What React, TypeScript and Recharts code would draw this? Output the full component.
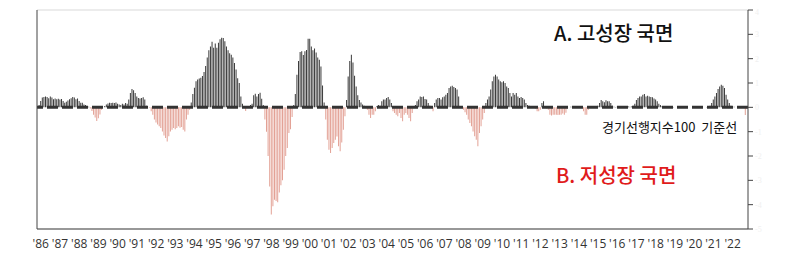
import { BarChart, Bar, Cell, XAxis, YAxis, CartesianGrid, ReferenceLine } from "recharts";

// monthly leading index minus 100 (Jan..Dec)
const y1986 = [0.05, 0.1, 0.26, 0.4, 0.42, 0.45, 0.42, 0.37, 0.45, 0.4, 0.33, 0.36];
const y1987 = [0.33, 0.35, 0.32, 0.34, 0.26, 0.19, 0.23, 0.28, 0.33, 0.37, 0.42, 0.4];
const y1988 = [0.33, 0.36, 0.26, 0.19, 0.19, 0.12, 0.1, 0.05, 0.02, -0.05, -0.15, -0.3];
const y1989 = [-0.42, -0.56, -0.45, -0.29, -0.1, 0.0, 0.05, 0.12, 0.16, 0.19, 0.18, 0.19];
const y1990 = [0.18, 0.2, 0.15, 0.12, 0.1, 0.15, 0.12, 0.18, 0.15, 0.32, 0.59, 0.75];
const y1991 = [0.7, 0.59, 0.45, 0.38, 0.36, 0.38, 0.41, 0.32, 0.07, 0.0, -0.02, -0.16];
const y1992 = [-0.3, -0.5, -0.62, -0.71, -0.78, -0.85, -0.99, -1.16, -1.26, -1.4, -1.19, -0.99];
const y1993 = [-0.92, -0.85, -0.9, -0.85, -0.78, -0.84, -0.81, -0.92, -0.99, -0.5, -0.3, -0.1];
const y1994 = [0.2, 0.55, 0.8, 1.07, 1.14, 1.18, 1.22, 1.29, 1.45, 1.7, 2.05, 2.35];
const y1995 = [2.5, 2.7, 2.45, 2.62, 2.45, 2.65, 2.8, 2.86, 2.85, 2.72, 2.5, 2.35];
const y1996 = [2.22, 2.16, 2.05, 1.82, 1.55, 1.2, 1.0, 0.45, 0.15, 0.05, -0.15, 0.05];
const y1997 = [0.05, 0.1, 0.15, 0.5, 0.56, 0.45, 0.55, 0.6, 0.35, 0.1, -0.5, -1.0];
const y1998 = [-2.0, -3.25, -4.4, -4.07, -3.8, -3.85, -3.9, -3.5, -3.2, -3.0, -2.56, -2.0];
const y1999 = [-1.67, -1.05, -0.9, -0.4, 0.1, 0.55, 1.34, 1.9, 2.27, 2.3, 2.15, 2.3];
const y2000 = [2.36, 2.82, 2.82, 2.5, 2.35, 2.42, 2.25, 2.05, 1.96, 1.68, 0.9, 0.2];
const y2001 = [-0.5, -1.33, -1.74, -1.88, -1.67, -1.47, -1.33, -1.2, -1.6, -1.8, -1.45, -0.92];
const y2002 = [-0.37, 0.3, 1.27, 1.9, 2.16, 1.84, 1.3, 0.86, 0.5, 0.3, 0.2, 0.12];
const y2003 = [0.07, 0.0, -0.1, -0.3, -0.44, -0.3, -0.3, -0.16, 0.05, 0.1, 0.07, 0.25];
const y2004 = [0.32, 0.32, 0.38, 0.42, 0.32, 0.18, -0.16, -0.23, -0.3, -0.37, -0.23, -0.44];
const y2005 = [-0.57, -0.3, -0.23, -0.3, -0.44, -0.57, -0.23, 0.0, 0.1, 0.25, 0.32, 0.45];
const y2006 = [0.42, 0.45, 0.34, 0.32, 0.18, 0.07, 0.0, -0.16, 0.18, 0.32, 0.38, 0.38];
const y2007 = [0.32, 0.41, 0.45, 0.52, 0.59, 0.79, 0.86, 0.89, 0.84, 0.79, 0.73, 0.45];
const y2008 = [0.05, 0.0, -0.1, -0.2, -0.3, -0.5, -0.64, -0.78, -0.99, -1.19, -1.33, -1.6];
const y2009 = [-1.05, -0.78, -0.5, -0.23, 0.18, 0.32, 0.45, 0.73, 1.07, 1.27, 1.34, 1.27];
const y2010 = [1.14, 1.07, 1.03, 1.07, 1.0, 0.86, 0.79, 0.59, 0.45, 0.59, 0.52, 0.59];
const y2011 = [0.45, 0.38, 0.42, 0.38, 0.32, 0.18, 0.1, 0.07, 0.05, 0.02, 0.0, -0.05];
const y2012 = [-0.16, -0.16, -0.1, 0.18, 0.25, 0.0, -0.05, -0.1, -0.3, -0.34, -0.3, -0.3];
const y2013 = [-0.3, -0.32, -0.3, -0.3, -0.25, -0.3, -0.22, -0.05, 0.0, 0.02, 0.02, 0.0];
const y2014 = [0.0, 0.02, 0.0, -0.02, 0.0, -0.16, -0.3, -0.3, -0.1, 0.0, 0.02, 0.03];
const y2015 = [0.02, 0.05, 0.07, 0.18, 0.3, 0.25, 0.21, 0.29, 0.25, 0.25, 0.18, 0.07];
const y2016 = [0.02, 0.01, 0.02, 0.01, 0.0, 0.01, 0.02, 0.01, 0.02, 0.03, 0.02, 0.03];
const y2017 = [0.07, 0.15, 0.3, 0.38, 0.45, 0.45, 0.52, 0.55, 0.45, 0.48, 0.45, 0.42];
const y2018 = [0.41, 0.36, 0.32, 0.25, 0.15, 0.1, 0.04, 0.02, 0.01, 0.0, 0.0, 0.0];
const y2019 = [0.0, 0.01, 0.0, 0.0, 0.01, 0.0, 0.0, 0.0, 0.01, 0.0, 0.0, 0.0];
const y2020 = [0.0, 0.0, 0.01, 0.0, 0.0, 0.0, 0.01, 0.0, 0.0, 0.0, 0.01, 0.02];
const y2021 = [0.07, 0.18, 0.32, 0.45, 0.59, 0.75, 0.86, 0.93, 0.89, 0.79, 0.52, 0.32];
const y2022 = [0.18, 0.07, 0.04, 0.02, 0.0, 0.0, 0.0, 0.0, 0.0, 0.0, -0.32, -0.05];

const yearRows: [number, number[]][] = [
  [1986, y1986], [1987, y1987], [1988, y1988], [1989, y1989], [1990, y1990],
  [1991, y1991], [1992, y1992], [1993, y1993], [1994, y1994], [1995, y1995],
  [1996, y1996], [1997, y1997], [1998, y1998], [1999, y1999], [2000, y2000],
  [2001, y2001], [2002, y2002], [2003, y2003], [2004, y2004], [2005, y2005],
  [2006, y2006], [2007, y2007], [2008, y2008], [2009, y2009], [2010, y2010],
  [2011, y2011], [2012, y2012], [2013, y2013], [2014, y2014], [2015, y2015],
  [2016, y2016], [2017, y2017], [2018, y2018], [2019, y2019], [2020, y2020],
  [2021, y2021], [2022, y2022],
];

const rightTicks = [-5, -4, -3, -2, -1, 0, 1, 2, 3, 4];
const gridTicks = [0, 1, 2, 3, 4, 5, 6];

const data = yearRows.flatMap(([yr, vals]) =>
  vals.map((v, i) => ({ m: `${yr}-${i + 1}`, v }))
);

const DARK = "#3a3a3a";
const PINK = "#e3a195";
const AXIS = "#444";
const KR = "'Noto Sans CJK KR', 'Noto Sans', sans-serif";

export default function App() {
  return (
    <div style={{ position: "relative", width: 778, height: 249 }}>
      <BarChart
        width={778}
        height={249}
        data={data}
        margin={{ top: 2, right: 8, bottom: 8, left: 28 }}
        barCategoryGap={0}
      >
        <CartesianGrid vertical={false} yAxisId="l" stroke="#d9d9d9" />
        <XAxis
          dataKey="m"
          interval={11}
          tickLine={false}
          axisLine={{ stroke: AXIS }}
          tickMargin={4}
          height={20}
          tick={{ fill: "#333", fontSize: 12, fontFamily: "'Open Sans', sans-serif", dx: 3 }}
          tickFormatter={(m: string) => "'" + m.slice(2, 4)}
        />
        <YAxis
          yAxisId="l"
          orientation="left"
          width={1}
          domain={[0, 6]}
          ticks={gridTicks}
          tick={false}
          tickLine={false}
          axisLine={{ stroke: AXIS }}
        />
        <YAxis
          yAxisId="r"
          orientation="right"
          width={30}
          domain={[-5, 4]}
          ticks={rightTicks}
          tickSize={5}
          tickLine={{ stroke: AXIS }}
          axisLine={{ stroke: AXIS }}
          tick={{ fill: "#f0f0f0", fontSize: 8 }}
        />
        <Bar dataKey="v" yAxisId="r" barSize={1} isAnimationActive={false}>
          {data.map((d, i) => (
            <Cell key={i} fill={d.v >= 0 ? DARK : PINK} />
          ))}
        </Bar>
        <ReferenceLine y={0} yAxisId="r" stroke="#333" strokeWidth={3} strokeDasharray="11 4" />
      </BarChart>
      <div style={{ position: "absolute", left: 546, top: 25, transform: "translateY(-50%)", fontFamily: KR, fontSize: 20, fontWeight: 500, color: "#111", lineHeight: 1, whiteSpace: "pre" }}>
        A. 고성장 국면
      </div>
      <div style={{ position: "absolute", left: 548, top: 167, transform: "translateY(-50%)", fontFamily: KR, fontSize: 20, fontWeight: 500, color: "#e01b1b", lineHeight: 1, whiteSpace: "pre" }}>
        B. 저성장 국면
      </div>
      <div style={{ position: "absolute", left: 594, top: 118, transform: "translateY(-50%)", fontFamily: KR, fontSize: 13, color: "#111", lineHeight: 1, whiteSpace: "pre" }}>
        경기선행지수100  기준선
      </div>
    </div>
  );
}
